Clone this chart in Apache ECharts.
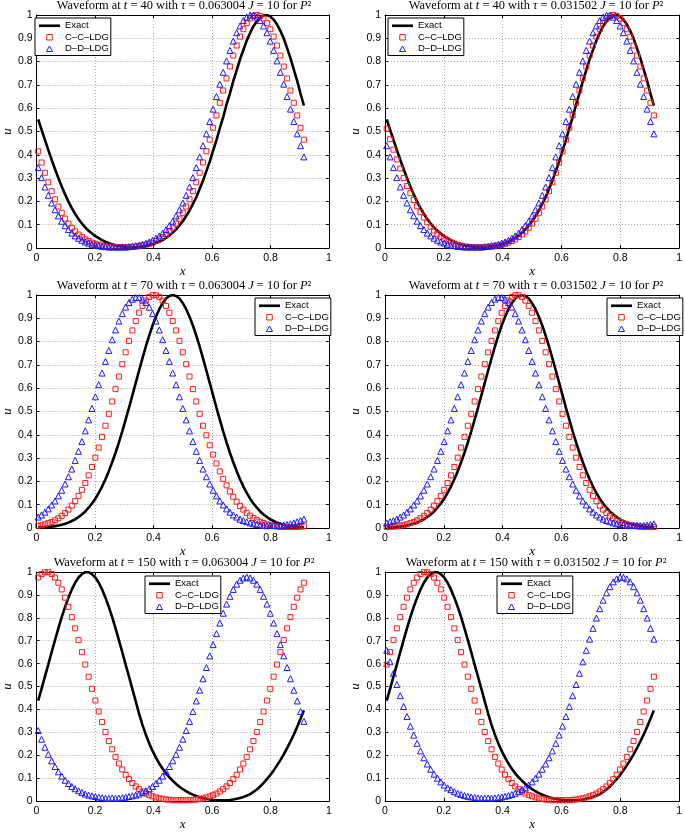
<!DOCTYPE html>
<html><head><meta charset="utf-8">
<script src="https://cdn.jsdelivr.net/npm/echarts@6/dist/echarts.min.js"></script>
<style>html,body{margin:0;padding:0;background:#fff}#c{width:685px;height:832px}</style>
</head><body><div id="c"></div>
<script>
const xNodes = [0.00575,0.01725,0.02875,0.04025,0.05175,0.06325,0.07475,0.08625,0.09775,0.10925,
0.12075,0.13225,0.14375,0.15525,0.16675,0.17825,0.18975,0.20125,0.21275,0.22425,
0.23575,0.24725,0.25875,0.27025,0.28175,0.29325,0.30475,0.31625,0.32775,0.33925,
0.35075,0.36225,0.37375,0.38525,0.39675,0.40825,0.41975,0.43125,0.44275,0.45425,
0.46575,0.47725,0.48875,0.50025,0.51175,0.52325,0.53475,0.54625,0.55775,0.56925,
0.58075,0.59225,0.60375,0.61525,0.62675,0.63825,0.64975,0.66125,0.67275,0.68425,
0.69575,0.70725,0.71875,0.73025,0.74175,0.75325,0.76475,0.77625,0.78775,0.79925,
0.81075,0.82225,0.83375,0.84525,0.85675,0.86825,0.87975,0.89125,0.90275,0.91425];

const xTickLabels = ['0','0.2','0.4','0.6','0.8','1'];
const yTickLabels = ['0','0.1','0.2','0.3','0.4','0.5','0.6','0.7','0.8','0.9','1'];
const seriesNames = ['Exact','C\u2013C\u2013LDG','D\u2013D\u2013LDG'];
const timeLabels = ['40','40','70','70','150','150'];
const tauLabels = ['0.063004','0.031502','0.063004','0.031502','0.063004','0.031502'];

const exactT40 = [0.552,0.508,0.464,0.421,0.379,0.339,0.300,0.264,0.230,0.199,
0.171,0.146,0.124,0.105,0.088,0.074,0.062,0.051,0.042,0.034,
0.027,0.021,0.016,0.012,0.009,0.007,0.005,0.004,0.003,0.003,
0.005,0.007,0.009,0.012,0.016,0.021,0.027,0.034,0.043,0.054,
0.066,0.080,0.097,0.115,0.137,0.161,0.189,0.218,0.253,0.289,
0.330,0.371,0.418,0.463,0.514,0.562,0.616,0.664,0.716,0.762,
0.810,0.850,0.890,0.923,0.952,0.973,0.989,0.998,1.000,0.994,
0.980,0.960,0.932,0.899,0.858,0.815,0.766,0.717,0.662,0.611];

const cc40Coarse = [0.415,0.367,0.323,0.282,0.244,0.209,0.178,0.151,0.126,0.105,
0.087,0.071,0.058,0.047,0.037,0.030,0.023,0.018,0.014,0.011,
0.008,0.006,0.005,0.004,0.003,0.004,0.003,0.004,0.005,0.006,
0.008,0.011,0.014,0.018,0.023,0.030,0.037,0.047,0.058,0.071,
0.087,0.105,0.126,0.151,0.178,0.209,0.244,0.282,0.323,0.367,
0.415,0.465,0.516,0.569,0.623,0.676,0.728,0.779,0.826,0.869,
0.907,0.939,0.965,0.985,0.996,1.000,0.996,0.985,0.965,0.939,
0.907,0.869,0.826,0.779,0.728,0.676,0.623,0.569,0.516,0.465];

const dd40Coarse = [0.345,0.302,0.262,0.226,0.193,0.164,0.138,0.115,0.096,0.079,
0.064,0.052,0.042,0.033,0.026,0.021,0.016,0.012,0.010,0.007,
0.006,0.004,0.004,0.004,0.004,0.004,0.004,0.006,0.007,0.010,
0.012,0.016,0.021,0.026,0.033,0.042,0.052,0.064,0.079,0.096,
0.115,0.138,0.164,0.193,0.226,0.262,0.302,0.345,0.391,0.439,
0.490,0.543,0.596,0.650,0.703,0.754,0.803,0.848,0.888,0.924,
0.953,0.976,0.991,0.999,0.999,0.991,0.976,0.953,0.924,0.888,
0.848,0.803,0.754,0.703,0.650,0.596,0.543,0.490,0.439,0.391];

const cc40Fine = [0.512,0.467,0.422,0.380,0.341,0.300,0.266,0.235,0.206,0.179,
0.154,0.131,0.110,0.091,0.075,0.061,0.049,0.039,0.031,0.024,
0.018,0.014,0.010,0.007,0.005,0.004,0.003,0.003,0.003,0.004,
0.005,0.006,0.008,0.011,0.014,0.018,0.023,0.030,0.037,0.047,
0.058,0.071,0.087,0.105,0.126,0.151,0.178,0.209,0.244,0.282,
0.323,0.367,0.415,0.465,0.516,0.569,0.623,0.676,0.728,0.779,
0.826,0.869,0.907,0.939,0.965,0.985,0.996,1.000,0.996,0.985,
0.965,0.939,0.907,0.869,0.826,0.779,0.728,0.676,0.623,0.569];

const dd40Fine = [0.439,0.391,0.345,0.302,0.262,0.226,0.193,0.164,0.138,0.115,
0.096,0.079,0.064,0.052,0.042,0.033,0.026,0.021,0.016,0.012,
0.010,0.007,0.006,0.004,0.004,0.004,0.004,0.004,0.004,0.006,
0.007,0.010,0.012,0.016,0.021,0.026,0.033,0.042,0.052,0.064,
0.079,0.096,0.115,0.138,0.164,0.193,0.226,0.262,0.302,0.345,
0.391,0.439,0.490,0.543,0.596,0.650,0.703,0.754,0.803,0.848,
0.888,0.924,0.953,0.976,0.991,0.999,0.999,0.991,0.976,0.953,
0.924,0.888,0.848,0.803,0.754,0.703,0.650,0.596,0.543,0.490];

const exactT70 = [0.004,0.003,0.004,0.005,0.006,0.008,0.011,0.014,0.018,0.023,
0.030,0.037,0.047,0.058,0.071,0.087,0.105,0.126,0.151,0.178,
0.209,0.244,0.282,0.323,0.367,0.415,0.465,0.516,0.569,0.623,
0.676,0.728,0.779,0.826,0.869,0.907,0.939,0.965,0.985,0.996,
1.000,0.996,0.985,0.965,0.939,0.907,0.869,0.826,0.779,0.728,
0.676,0.623,0.569,0.516,0.465,0.415,0.367,0.323,0.282,0.244,
0.209,0.178,0.151,0.126,0.105,0.087,0.071,0.058,0.047,0.037,
0.030,0.023,0.018,0.014,0.011,0.008,0.006,0.005,0.004,0.003];

const cc70Coarse = [0.010,0.012,0.016,0.021,0.026,0.033,0.042,0.052,0.064,0.079,
0.096,0.115,0.138,0.164,0.193,0.226,0.262,0.302,0.345,0.391,
0.439,0.490,0.543,0.596,0.650,0.703,0.754,0.803,0.848,0.888,
0.924,0.953,0.976,0.991,0.999,0.999,0.991,0.976,0.953,0.924,
0.888,0.848,0.803,0.754,0.703,0.650,0.596,0.543,0.490,0.439,
0.398,0.355,0.315,0.277,0.243,0.211,0.183,0.157,0.134,0.113,
0.095,0.079,0.065,0.053,0.043,0.034,0.027,0.021,0.016,0.012,
0.009,0.007,0.005,0.004,0.004,0.004,0.004,0.004,0.006,0.007];

const dd70Coarse = [0.047,0.056,0.068,0.082,0.099,0.116,0.138,0.162,0.189,0.220,
0.253,0.290,0.329,0.371,0.417,0.464,0.513,0.563,0.615,0.665,
0.715,0.762,0.808,0.850,0.888,0.920,0.948,0.968,0.982,0.989,
0.989,0.982,0.968,0.948,0.920,0.888,0.850,0.808,0.762,0.715,
0.665,0.615,0.563,0.513,0.464,0.417,0.371,0.329,0.290,0.253,
0.220,0.189,0.162,0.138,0.116,0.099,0.082,0.068,0.056,0.047,
0.038,0.032,0.027,0.022,0.018,0.015,0.013,0.011,0.010,0.011,
0.011,0.010,0.011,0.013,0.015,0.018,0.022,0.027,0.032,0.038];

const cc70Fine = [0.004,0.004,0.006,0.007,0.010,0.012,0.016,0.021,0.026,0.033,
0.042,0.052,0.064,0.079,0.096,0.115,0.138,0.164,0.193,0.226,
0.262,0.302,0.345,0.391,0.439,0.490,0.543,0.596,0.650,0.703,
0.754,0.803,0.848,0.888,0.924,0.953,0.976,0.991,0.999,0.999,
0.991,0.976,0.953,0.924,0.888,0.848,0.803,0.754,0.703,0.650,
0.596,0.543,0.490,0.439,0.391,0.345,0.302,0.262,0.226,0.193,
0.164,0.138,0.115,0.096,0.079,0.064,0.052,0.042,0.033,0.026,
0.021,0.016,0.012,0.010,0.007,0.006,0.004,0.004,0.004,0.004];

const dd70Fine = [0.022,0.027,0.032,0.038,0.047,0.056,0.068,0.082,0.099,0.116,
0.138,0.162,0.189,0.220,0.253,0.290,0.329,0.371,0.417,0.464,
0.513,0.563,0.615,0.665,0.715,0.762,0.808,0.850,0.888,0.920,
0.948,0.968,0.982,0.989,0.989,0.982,0.968,0.948,0.920,0.888,
0.850,0.808,0.762,0.715,0.665,0.615,0.563,0.513,0.464,0.417,
0.371,0.329,0.290,0.253,0.220,0.189,0.162,0.138,0.116,0.099,
0.082,0.068,0.056,0.047,0.038,0.032,0.027,0.022,0.018,0.015,
0.013,0.011,0.010,0.011,0.011,0.010,0.011,0.013,0.015,0.018];

const exactT150 = [0.439,0.490,0.543,0.596,0.650,0.703,0.754,0.803,0.848,0.888,
0.924,0.953,0.976,0.991,0.999,0.999,0.991,0.976,0.953,0.924,
0.888,0.848,0.803,0.754,0.703,0.650,0.596,0.543,0.490,0.435,
0.382,0.333,0.290,0.252,0.219,0.190,0.164,0.141,0.121,0.104,
0.089,0.075,0.063,0.052,0.043,0.035,0.028,0.022,0.017,0.013,
0.010,0.007,0.005,0.004,0.003,0.003,0.004,0.005,0.007,0.010,
0.014,0.018,0.024,0.030,0.040,0.051,0.064,0.079,0.096,0.114,
0.134,0.156,0.179,0.204,0.231,0.260,0.291,0.324,0.359,0.396];

const cc150Coarse = [0.976,0.991,0.999,0.999,0.991,0.976,0.953,0.924,0.888,0.848,
0.803,0.754,0.703,0.650,0.596,0.543,0.490,0.439,0.391,0.345,
0.302,0.262,0.226,0.193,0.164,0.138,0.115,0.096,0.079,0.064,
0.052,0.042,0.033,0.026,0.021,0.016,0.012,0.010,0.007,0.006,
0.004,0.004,0.004,0.004,0.004,0.004,0.006,0.007,0.010,0.012,
0.016,0.021,0.026,0.033,0.042,0.052,0.064,0.079,0.096,0.115,
0.138,0.164,0.193,0.226,0.262,0.302,0.345,0.391,0.439,0.490,
0.543,0.596,0.650,0.703,0.754,0.803,0.848,0.888,0.924,0.953];

const dd150Coarse = [0.308,0.270,0.235,0.204,0.176,0.151,0.128,0.109,0.091,0.077,
0.064,0.054,0.045,0.038,0.031,0.026,0.023,0.020,0.017,0.015,
0.013,0.012,0.014,0.012,0.013,0.015,0.017,0.020,0.023,0.026,
0.031,0.038,0.045,0.054,0.064,0.077,0.091,0.109,0.128,0.151,
0.176,0.204,0.235,0.270,0.308,0.348,0.391,0.437,0.484,0.534,
0.583,0.634,0.683,0.731,0.777,0.820,0.860,0.894,0.924,0.947,
0.964,0.974,0.978,0.974,0.964,0.947,0.924,0.894,0.860,0.820,
0.777,0.731,0.683,0.634,0.583,0.534,0.484,0.437,0.391,0.348];

const cc150Fine = [0.596,0.650,0.703,0.754,0.803,0.848,0.888,0.924,0.953,0.976,
0.991,0.999,0.999,0.991,0.976,0.953,0.924,0.888,0.848,0.803,
0.754,0.703,0.650,0.596,0.543,0.490,0.439,0.391,0.345,0.302,
0.262,0.226,0.193,0.164,0.138,0.115,0.096,0.079,0.064,0.052,
0.042,0.033,0.026,0.021,0.016,0.012,0.010,0.007,0.006,0.004,
0.004,0.004,0.004,0.004,0.004,0.006,0.007,0.010,0.012,0.016,
0.021,0.026,0.033,0.042,0.052,0.064,0.079,0.096,0.115,0.138,
0.164,0.193,0.226,0.262,0.302,0.345,0.391,0.439,0.490,0.543];

const dd150Fine = [0.658,0.608,0.558,0.509,0.460,0.413,0.369,0.327,0.288,0.252,
0.219,0.189,0.162,0.139,0.118,0.100,0.084,0.070,0.058,0.050,
0.041,0.034,0.029,0.024,0.021,0.018,0.016,0.014,0.013,0.014,
0.014,0.013,0.014,0.016,0.018,0.021,0.024,0.029,0.034,0.041,
0.050,0.058,0.070,0.084,0.100,0.118,0.139,0.162,0.189,0.219,
0.252,0.288,0.327,0.369,0.413,0.460,0.509,0.558,0.608,0.658,
0.707,0.754,0.799,0.840,0.877,0.909,0.936,0.957,0.970,0.977,
0.977,0.970,0.957,0.936,0.909,0.877,0.840,0.799,0.754,0.707];

// ---- layout (pixels) ----
const panelData = [
  [exactT40, cc40Coarse, dd40Coarse],
  [exactT40, cc40Fine, dd40Fine],
  [exactT70, cc70Coarse, dd70Coarse],
  [exactT70, cc70Fine, dd70Fine],
  [exactT150, cc150Coarse, dd150Coarse],
  [exactT150, cc150Fine, dd150Fine]
];
const boxes = [[33,15,296,233],[385,15,296,233],[33,295,296,233],[385,295,296,233],[33,572,296,234],[385,572,296,234]];
const legendPos = [[35,18],[388,18],[255,298],[607,298],[145,576],[497,576]];

const SANS = 'Liberation Sans, Arial, Helvetica, sans-serif';
const SERIF = 'Liberation Serif, Times New Roman, serif';
const RED = '#ff1a1a', BLUE = '#1a1aff';

const legendItems = [
  {name: seriesNames[0], icon: 'path://M0,0L220,0L220,28L0,28Z', itemStyle: {color: '#000', borderWidth: 0}},
  {name: seriesNames[1], icon: 'path://M0,0L10,0L10,10L0,10Z', itemStyle: {color: 'rgba(255,255,255,0)', borderColor: RED, borderWidth: 1}},
  {name: seriesNames[2], icon: 'path://M5,0L10,9L0,9Z', itemStyle: {color: 'rgba(255,255,255,0)', borderColor: BLUE, borderWidth: 1}}
];

const option = {
  animation: false,
  backgroundColor: '#fff',
  grid: [], xAxis: [], yAxis: [], series: [], title: [], legend: []
};

boxes.forEach((b, k) => {
  option.grid.push({left: b[0], top: b[1], width: b[2], height: b[3], show: false, containLabel: false});
  const tickStyle = {show: true, inside: true, length: 3, lineStyle: {color: '#000', width: 1}};
  const axisLine = {show: true, onZero: false, lineStyle: {color: '#000', width: 1}};
  option.xAxis.push({
    gridIndex: k, type: 'value', min: 0, max: 1, interval: 0.2, position: 'bottom',
    axisLine, axisTick: tickStyle,
    axisLabel: {color: '#000', fontFamily: SANS, fontSize: 10.5, margin: 5,
      formatter: v => xTickLabels[Math.round(v / 0.2)]},
    splitLine: {show: true, lineStyle: {color: '#a8a8a8', type: [1, 2], width: 1}},
    name: 'x', nameLocation: 'middle', nameGap: 10,
    nameTextStyle: {fontFamily: SERIF, fontStyle: 'italic', fontSize: 13, color: '#000'}
  });
  option.xAxis.push({
    gridIndex: k, type: 'value', min: 0, max: 1, interval: 0.2, position: 'top',
    axisLine, axisTick: tickStyle, axisLabel: {show: false}, splitLine: {show: false}
  });
  option.yAxis.push({
    gridIndex: k, type: 'value', min: 0, max: 1, interval: 0.1, position: 'left',
    axisLine, axisTick: tickStyle,
    axisLabel: {color: '#000', fontFamily: SANS, fontSize: 10.5, margin: 4,
      formatter: v => yTickLabels[Math.round(v * 10)]},
    splitLine: {show: true, lineStyle: {color: '#a8a8a8', type: [1, 2], width: 1}},
    name: 'u', nameLocation: 'middle', nameGap: 19, nameRotate: 90,
    nameTextStyle: {fontFamily: SERIF, fontStyle: 'italic', fontSize: 13, color: '#000'}
  });
  option.yAxis.push({
    gridIndex: k, type: 'value', min: 0, max: 1, interval: 0.1, position: 'right',
    axisLine, axisTick: tickStyle, axisLabel: {show: false}, splitLine: {show: false}
  });
  const [ex, cc, dd] = panelData[k];
  const toPts = arr => xNodes.map((x, i) => [x, arr[i]]);
  option.series.push({
    name: seriesNames[0], type: 'line', xAxisIndex: 2 * k, yAxisIndex: 2 * k,
    data: toPts(ex), symbol: 'none', silent: true, z: 2,
    lineStyle: {color: '#000', width: 2.6}, itemStyle: {color: '#000'}
  });
  option.series.push({
    name: seriesNames[1], type: 'line', xAxisIndex: 2 * k, yAxisIndex: 2 * k,
    data: toPts(cc), symbol: 'rect', symbolSize: 5, showSymbol: true, showAllSymbol: true, silent: true, z: 3,
    lineStyle: {width: 0, opacity: 0},
    itemStyle: {color: 'rgba(255,255,255,0)', borderColor: RED, borderWidth: 1}
  });
  option.series.push({
    name: seriesNames[2], type: 'line', xAxisIndex: 2 * k, yAxisIndex: 2 * k,
    data: toPts(dd), symbol: 'triangle', symbolSize: 6, showSymbol: true, showAllSymbol: true, silent: true, z: 4,
    lineStyle: {width: 0, opacity: 0},
    itemStyle: {color: 'rgba(255,255,255,0)', borderColor: BLUE, borderWidth: 1}
  });
  option.title.push({
    text: 'Waveform at {i|t} = ' + timeLabels[k] + ' with {i|\u03c4} = ' + tauLabels[k] + ' {i|J} = 10 for {i|P}\u00b2',
    left: b[0] + b[2] / 2 + 3, top: b[1] - 15, textAlign: 'center',
    padding: 0,
    textStyle: {fontFamily: SERIF, fontSize: 12.4, fontWeight: 'normal', color: '#000',
      rich: {i: {fontFamily: SERIF, fontSize: 12.4, fontStyle: 'italic', color: '#000'}}}
  });
  option.legend.push({
    data: legendItems, orient: 'vertical', left: legendPos[k][0], top: legendPos[k][1],
    itemWidth: 21, itemHeight: 5.5, itemGap: 0, selectedMode: false, symbolKeepAspect: true,
    padding: [2, 2, 1, 4], borderColor: '#000', borderWidth: 1, backgroundColor: '#fff',
    textStyle: {fontFamily: SANS, fontSize: 9.5, color: '#000', lineHeight: 11.5}
  });
});

const chart = echarts.init(document.getElementById('c'), null, {renderer: 'canvas'});
chart.setOption(option);
</script>
</body></html>
